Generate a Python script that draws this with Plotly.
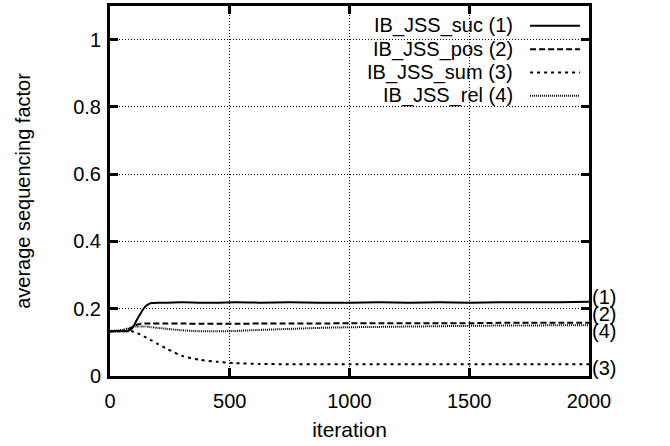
import plotly.graph_objects as go

# iteration sample points
iterations = [0, 50, 75, 90, 100, 110, 125, 140, 150, 165, 175, 200, 240, 300, 375, 450, 525,
              625, 750, 875, 1000, 1125, 1250, 1375, 1500, 1625, 1750, 1875, 2000]

# average sequencing factor per strategy
ib_jss_suc = [0.133, 0.133, 0.134, 0.140, 0.150, 0.164, 0.183, 0.200, 0.208, 0.215, 0.217, 0.218,
              0.218, 0.219, 0.218, 0.218, 0.219, 0.218, 0.219, 0.218, 0.218, 0.219, 0.218, 0.219,
              0.218, 0.219, 0.219, 0.219, 0.221]
ib_jss_pos = [0.133, 0.134, 0.138, 0.144, 0.148, 0.152, 0.155, 0.156, 0.156, 0.156, 0.156, 0.156,
              0.156, 0.156, 0.155, 0.155, 0.155, 0.156, 0.156, 0.156, 0.157, 0.157, 0.157, 0.157,
              0.157, 0.158, 0.158, 0.158, 0.158]
ib_jss_sum = [0.133, 0.133, 0.133, 0.133, 0.131, 0.128, 0.124, 0.118, 0.115, 0.109, 0.105, 0.095,
              0.080, 0.060, 0.048, 0.042, 0.038, 0.036, 0.035, 0.035, 0.035, 0.035, 0.035, 0.035,
              0.035, 0.035, 0.035, 0.035, 0.035]
ib_jss_rel = [0.133, 0.137, 0.141, 0.145, 0.147, 0.147, 0.147, 0.147, 0.147, 0.146, 0.145, 0.143,
              0.140, 0.136, 0.133, 0.133, 0.134, 0.137, 0.140, 0.143, 0.145, 0.146, 0.147, 0.148,
              0.149, 0.150, 0.150, 0.151, 0.151]

series_names = ["IB_JSS_suc (1)", "IB_JSS_pos (2)", "IB_JSS_sum (3)", "IB_JSS_rel (4)"]
end_tags = ["(1)", "(2)", "(3)", "(4)"]
series_values = [ib_jss_suc, ib_jss_pos, ib_jss_sum, ib_jss_rel]

dashes = ["solid", "6px,3px", "3px,4px", "1px,1px"]
end_tag_shift = [5, 9, -4, -6]

FONT = "Liberation Sans, Arial, Helvetica, sans-serif"
FS = 20

fig = go.Figure()
for name, vals, dash in zip(series_names, series_values, dashes):
    fig.add_trace(go.Scatter(
        x=iterations, y=vals, mode="lines", name=name,
        line=dict(color="black", width=2, dash=dash, shape="spline", smoothing=0.6),
        showlegend=False,
    ))

# end-of-line tags
for tag, vals, shift in zip(end_tags, series_values, end_tag_shift):
    fig.add_annotation(x=iterations[-1], y=vals[-1], text=tag, showarrow=False,
                       xanchor="left", yanchor="middle", xshift=1, yshift=shift,
                       font=dict(size=FS, color="black", family=FONT))

# key box: blank out the grid behind it
fig.add_shape(type="rect", xref="paper", yref="paper", x0=0.458, x1=1.0, y0=0.748, y1=1.0,
              fillcolor="white", line=dict(width=0), layer="between")

# key entries: label right-aligned, line sample to the right
row_y = [20, 43.5, 67, 90.5]
for name, dash, ypx in zip(series_names, dashes, row_y):
    yp = (373 - ypx) / 373
    fig.add_annotation(xref="paper", yref="paper", x=0.846, y=yp, text=name, showarrow=False,
                       xanchor="right", yanchor="middle",
                       font=dict(size=FS, color="black", family=FONT))
    fig.add_shape(type="line", xref="paper", yref="paper", x0=0.877, x1=0.981, y0=yp, y1=yp,
                  line=dict(color="black", width=2, dash=dash))

axis_common = dict(
    showline=True, linecolor="black", linewidth=3, mirror="ticks",
    ticks="inside", ticklen=8, tickwidth=3, tickcolor="black",
    showgrid=True, gridcolor="black", gridwidth=1, griddash="1px,2px",
    zeroline=False,
    tickfont=dict(size=FS, color="black", family=FONT),
)

fig.update_xaxes(range=[0, 2000], tickvals=[0, 500, 1000, 1500, 2000],
                 ticklabelstandoff=5,
                 title=dict(text="iteration", font=dict(size=21, color="black", family=FONT),
                            standoff=12),
                 **axis_common)
fig.update_yaxes(range=[0, 1.1], tickvals=[0, 0.2, 0.4, 0.6, 0.8, 1.0],
                 ticktext=["0", "0.2", "0.4", "0.6", "0.8", "1"],
                 ticklabelstandoff=2,
                 title=dict(text="average sequencing factor",
                            font=dict(size=20, color="black", family=FONT), standoff=38),
                 **axis_common)

fig.update_layout(
    width=670, height=446,
    margin=dict(l=110, r=81, t=3, b=70),
    paper_bgcolor="white", plot_bgcolor="white",
    font=dict(family=FONT, color="black"),
)

fig.write_html("out.html")
